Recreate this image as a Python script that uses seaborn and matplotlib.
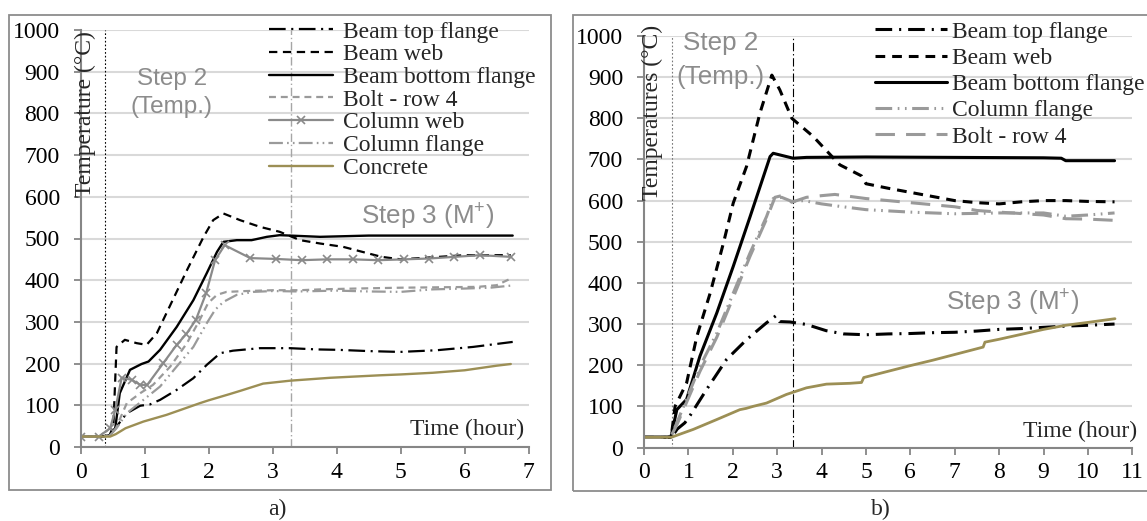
import matplotlib
matplotlib.use("Agg")
import matplotlib.pyplot as plt
import seaborn as sns
from matplotlib.patches import Rectangle

# ---------------- data: panel a) ----------------
a_top_x = [0, 0.3, 0.45, 0.54, 0.72, 0.93, 1.08, 1.24, 1.5, 1.76, 1.97, 2.18, 2.38, 2.8, 3.27, 3.69, 4.02, 4.5, 4.99, 5.56, 6.13, 6.75]
a_top_y = [25, 25, 27, 45, 81, 99, 102, 113, 137, 165, 197, 225, 231, 237, 237, 234, 233, 230, 228, 232, 240, 252]

a_web_x = [0, 0.3, 0.45, 0.51, 0.56, 0.69, 0.875, 1.03, 1.19, 1.34, 1.66, 1.92, 2.07, 2.23, 2.49, 2.8, 3.11, 3.43, 3.74, 4.1, 4.7, 5.0, 5.5, 6.0, 6.72]
a_web_y = [25, 25, 28, 49, 240, 257, 249, 245, 273, 321, 424, 504, 544, 560, 544, 528, 516, 496, 488, 480, 456, 450, 455, 460, 460]

a_bot_x = [0, 0.3, 0.45, 0.54, 0.61, 0.77, 0.95, 1.06, 1.24, 1.5, 1.76, 1.97, 2.13, 2.23, 2.44, 2.67, 2.91, 3.11, 3.43, 3.74, 4.5, 5.5, 6.75]
a_bot_y = [25, 25, 28, 45, 129, 185, 199, 205, 233, 288, 352, 417, 468, 492, 496, 496, 504, 508, 506, 504, 507, 507, 507]

a_bolt_x = [0, 0.3, 0.45, 0.55, 0.72, 0.93, 1.13, 1.4, 1.66, 1.86, 1.99, 2.13, 2.28, 2.59, 3.01, 3.43, 3.74, 4.3, 5.0, 5.6, 6.2, 6.5, 6.72]
a_bolt_y = [25, 25, 27, 45, 105, 129, 149, 193, 249, 305, 345, 365, 372, 374, 376, 376, 378, 380, 382, 383, 384, 388, 404]

a_cweb_x = [0, 0.28, 0.46, 0.54, 0.64, 0.80, 0.93, 1.04, 1.29, 1.5, 1.65, 1.80, 1.96, 2.10, 2.25, 2.65, 3.05, 3.45, 3.85, 4.25, 4.65, 5.05, 5.44, 5.84, 6.24, 6.72]
a_cweb_y = [25, 25, 45, 89, 166, 161, 149, 149, 201, 245, 271, 305, 369, 448, 484, 453, 451, 448, 450, 450, 448, 450, 452, 456, 460, 456]

a_cfl_x = [0, 0.3, 0.45, 0.56, 0.72, 0.98, 1.24, 1.5, 1.76, 1.97, 2.1, 2.23, 2.44, 2.7, 3.0, 3.4, 4.0, 4.5, 5.0, 5.5, 6.0, 6.4, 6.72]
a_cfl_y = [25, 25, 27, 45, 81, 113, 145, 193, 240, 297, 329, 348, 365, 372, 374, 373, 375, 373, 372, 378, 380, 382, 387]

a_conc_x = [0, 0.46, 0.55, 0.7, 0.98, 1.34, 1.86, 2.0, 2.33, 2.5, 2.85, 3.27, 3.9, 4.68, 5.0, 5.5, 6.0, 6.5, 6.72]
a_conc_y = [25, 25, 31, 45, 61, 77, 105, 112, 127, 135, 152, 159, 166, 172, 174, 178, 184, 195, 199]

a_step_lines = [0.38, 3.28]

# ---------------- data: panel b) ----------------
b_top_x = [0, 0.6, 0.62, 0.75, 0.92, 1.04, 1.41, 1.86, 2.31, 2.76, 2.97, 3.05, 3.29, 3.66, 4.1, 4.5, 5.0, 5.5, 6.0, 6.5, 7.0, 7.5, 8.0, 8.5, 9.0, 9.5, 10.0, 10.6]
b_top_y = [25, 25, 25, 45, 60, 78, 141, 214, 262, 303, 320, 306, 305, 299, 284, 276, 274, 276, 277, 279, 280, 283, 287, 289, 292, 295, 297, 300]

b_web_x = [0, 0.6, 0.62, 0.70, 0.96, 1.19, 1.49, 1.79, 2.01, 2.31, 2.61, 2.88, 3.06, 3.33, 3.81, 4.41, 4.9, 5.0, 5.5, 6.0, 6.5, 7.0, 7.5, 8.0, 8.5, 9.0, 9.5, 10.0, 10.6]
b_web_y = [25, 25, 32, 100, 157, 270, 375, 497, 594, 683, 812, 905, 869, 800, 756, 687, 660, 641, 630, 620, 610, 600, 595, 592, 597, 600, 600, 598, 597]

b_bot_x = [0, 0.6, 0.62, 0.74, 0.96, 1.26, 1.64, 2.01, 2.39, 2.84, 2.91, 3.06, 3.36, 3.66, 5.0, 7.0, 9.0, 9.4, 9.5, 10.0, 10.6]
b_bot_y = [25, 25, 32, 92, 117, 222, 327, 440, 561, 707, 715, 711, 703, 705, 706, 705, 704, 703, 697, 697, 697]

b_cfl_x = [0, 0.6, 0.62, 0.74, 1.26, 1.64, 2.01, 2.39, 2.76, 2.91, 3.10, 3.33, 3.6, 4.0, 4.41, 5.0, 6.0, 7.0, 8.0, 9.0, 9.5, 10.0, 10.6]
b_cfl_y = [25, 25, 30, 60, 197, 278, 375, 473, 561, 605, 608, 598, 600, 592, 586, 578, 572, 568, 570, 570, 562, 565, 570]

b_bolt_x = [0, 0.6, 0.62, 0.74, 1.26, 1.64, 2.01, 2.39, 2.76, 2.95, 3.10, 3.33, 3.66, 4.0, 4.3, 5.0, 6.0, 7.0, 7.5, 8.0, 9.0, 9.5, 10.0, 10.6]
b_bolt_y = [25, 25, 30, 55, 185, 268, 365, 465, 555, 608, 612, 596, 608, 612, 615, 605, 595, 585, 576, 572, 565, 556, 555, 552]

b_conc_x = [0, 0.62, 1.11, 1.64, 2.16, 2.3, 2.46, 2.76, 3.21, 3.66, 4.11, 4.64, 4.9, 4.95, 5.6, 6.0, 6.5, 7.0, 7.64, 7.68, 8.0, 8.5, 9.0, 9.5, 10.0, 10.61]
b_conc_y = [25, 25, 44, 68, 92, 95, 100, 108, 129, 145, 154, 156, 158, 170, 188, 199, 212, 226, 244, 256, 263, 275, 287, 297, 304, 313]

b_step_lines = [0.62, 3.35]

y_ticks = [0, 100, 200, 300, 400, 500, 600, 700, 800, 900, 1000]
a_x_ticks = [0, 1, 2, 3, 4, 5, 6, 7]
b_x_ticks = [0, 1, 2, 3, 4, 5, 6, 7, 8, 9, 10, 11]

# ---------------- figure ----------------
W, H = 1147, 521
sns.set_theme(style="white")
plt.rcParams["font.family"] = ["Liberation Serif", "DejaVu Serif"]
plt.rcParams["lines.scale_dashes"] = False
plt.rcParams["mathtext.fontset"] = "custom"
plt.rcParams["mathtext.rm"] = "Liberation Sans"
plt.rcParams["mathtext.it"] = "Liberation Sans"
plt.rcParams["mathtext.bf"] = "Liberation Sans"

fig = plt.figure(figsize=(W / 100, H / 100), dpi=100)


def fx(px):
    return px / W


def fy(py):
    return 1 - py / H


def axes_px(x0, x1, ytop, ybot):
    return fig.add_axes([fx(x0), fy(ybot), (x1 - x0) / W, (ybot - ytop) / H])


# panel borders
for (x0, y0, x1, y1) in [(9, 15, 551, 490), (573, 15, 1155, 491)]:
    fig.patches.append(Rectangle((fx(x0), fy(y1)), (x1 - x0) / W, (y1 - y0) / H,
                                 transform=fig.transFigure, fill=False,
                                 ec="#8c8c8c", lw=1.3, zorder=0))

axA = axes_px(80.7, 528.7, 30, 447)
axB = axes_px(644, 1132.3, 36, 447.5)

GRAY = "#8a8a8a"
GRAY2 = "#9a9a9a"
OLIVE = "#9c8f55"
SPINE = "#868686"


def draw(ax, x, y, **kw):
    sns.lineplot(x=x, y=y, ax=ax, errorbar=None, sort=False, **kw)
    return ax.lines[-1]


def style_axes(ax, xmax, xticks):
    ax.set_xlim(0, xmax)
    ax.set_ylim(0, 1000)
    ax.set_xticks(xticks)
    ax.set_yticks(y_ticks)
    ax.set_xlabel("")
    ax.set_ylabel("")
    ax.grid(axis="y", color="#d9d9d9", lw=1.5)
    ax.grid(axis="x", visible=False)
    ax.set_axisbelow(True)
    for s in ["top", "right"]:
        ax.spines[s].set_visible(False)
    for s in ["left", "bottom"]:
        ax.spines[s].set_color(SPINE)
        ax.spines[s].set_linewidth(1.5)
    ax.tick_params(axis="both", direction="out", length=5, width=1.3, color=SPINE,
                   labelsize=17, labelcolor="black")
    ax.tick_params(axis="x", pad=5.5, bottom=True)
    ax.tick_params(axis="y", pad=10, left=True)
    ax.set_facecolor("none")


# ---- panel a ----
hA = []
hA.append(draw(axA, a_top_x, a_top_y, color="black", lw=1.6, ls=(0, (12, 4, 1.5, 4))))
hA.append(draw(axA, a_web_x, a_web_y, color="black", lw=1.6, ls=(0, (6, 4))))
hA.append(draw(axA, a_bot_x, a_bot_y, color="black", lw=1.7, ls="-"))
hA.append(draw(axA, a_bolt_x, a_bolt_y, color=GRAY2, lw=1.6, ls=(0, (5, 3.5))))
hA.append(draw(axA, a_cweb_x, a_cweb_y, color=GRAY, lw=1.6, ls="-", marker="x",
               markersize=6, markeredgewidth=1.2, markeredgecolor=GRAY))
hA.append(draw(axA, a_cfl_x, a_cfl_y, color=GRAY2, lw=1.6, ls=(0, (10, 3, 1.2, 3, 1.2, 3))))
hA.append(draw(axA, a_conc_x, a_conc_y, color=OLIVE, lw=1.7, ls="-"))
a_labels = ["Beam top flange", "Beam web", "Beam bottom flange", "Bolt - row 4",
            "Column web", "Column flange", "Concrete"]

axA.axvline(a_step_lines[0], color="black", lw=0.8, ls=(0, (1.2, 1.5)), zorder=1)
axA.axvline(a_step_lines[1], color="#a6a6a6", lw=1.0, ls=(0, (6, 2, 1, 2)), zorder=1)
style_axes(axA, 7, a_x_ticks)
axA.legend(hA, a_labels, loc="upper left", bbox_to_anchor=(fx(269), fy(21)),
           bbox_transform=fig.transFigure, frameon=False, fontsize=17,
           handlelength=2.7, handletextpad=0.45, labelspacing=0.05,
           borderpad=0, borderaxespad=0)

# ---- panel b ----
hB = []
hB.append(draw(axB, b_top_x, b_top_y, color="black", lw=2.2, ls=(0, (12, 5, 1.5, 5))))
hB.append(draw(axB, b_web_x, b_web_y, color="black", lw=2.2, ls=(0, (7, 5))))
hB.append(draw(axB, b_bot_x, b_bot_y, color="black", lw=2.2, ls="-"))
hB.append(draw(axB, b_cfl_x, b_cfl_y, color=GRAY2, lw=2.2, ls=(0, (12, 4, 1.2, 4, 1.2, 4))))
hB.append(draw(axB, b_bolt_x, b_bolt_y, color=GRAY2, lw=2.2, ls=(0, (14, 8))))
draw(axB, b_conc_x, b_conc_y, color=OLIVE, lw=2.0, ls="-")
b_labels = ["Beam top flange", "Beam web", "Beam bottom flange", "Column flange", "Bolt - row 4"]

axB.axvline(b_step_lines[0], color="#777777", lw=0.8, ls=(0, (1.2, 1.5)), zorder=1)
axB.axvline(b_step_lines[1], color="black", lw=0.8, ls=(0, (6, 2, 1, 2)), zorder=1)
style_axes(axB, 11, b_x_ticks)
axB.legend(hB, b_labels, loc="upper left", bbox_to_anchor=(fx(875), fy(21)),
           bbox_transform=fig.transFigure, frameon=False, fontsize=17,
           handlelength=3.05, handletextpad=0.22, labelspacing=0.2,
           borderpad=0, borderaxespad=0)

# ---- annotations ----
STEP_C = "#8c8c8c"
sans = ["Liberation Sans", "DejaVu Sans"]
fig.text(fx(172), fy(79), "Step 2", ha="center", va="center", color=STEP_C, fontsize=17.5, family=sans)
fig.text(fx(172), fy(107), "(Temp.)", ha="center", va="center", color=STEP_C, fontsize=17.5, family=sans)
fig.text(fx(428), fy(217), r"Step 3 (M$^{+}$)", ha="center", va="center", color=STEP_C, fontsize=18.7, family=sans)
fig.text(fx(720.7), fy(42.7), "Step 2", ha="center", va="center", color=STEP_C, fontsize=18.7, family=sans)
fig.text(fx(720.7), fy(76.7), "(Temp.)", ha="center", va="center", color=STEP_C, fontsize=18.7, family=sans)
fig.text(fx(1013), fy(303), r"Step 3 (M$^{+}$)", ha="center", va="center", color=STEP_C, fontsize=18.7, family=sans)

fig.text(fx(85), fy(114.5), "Temperature (°C)", rotation=90, ha="center", va="center", fontsize=17)
fig.text(fx(652), fy(112), "Temperatures (°C)", rotation=90, ha="center", va="center", fontsize=17)
fig.text(fx(524), fy(429), "Time (hour)", ha="right", va="center", fontsize=17)
fig.text(fx(1136.7), fy(431.7), "Time (hour)", ha="right", va="center", fontsize=17)

fig.text(fx(277), fy(509), "a)", ha="center", va="center", fontsize=17)
fig.text(fx(881), fy(509), "b)", ha="center", va="center", fontsize=17)

fig.savefig("out.png", dpi=100, facecolor="white")
